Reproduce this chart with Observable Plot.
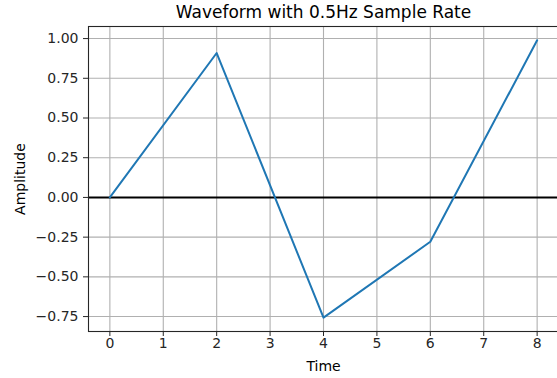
<!DOCTYPE html>
<html>
<head>
<meta charset="utf-8">
<script src="https://cdn.jsdelivr.net/npm/d3@7"></script>
<script src="https://cdn.jsdelivr.net/npm/@observablehq/plot@0.6"></script>
<style>
  html, body { margin: 0; padding: 0; background: #fff; }
  svg { display: block; }
</style>
</head>
<body>
<div id="chart"></div>
<script>
const times = [0, 2, 4, 6, 8];
const amplitudes = [0, 0.909, -0.757, -0.279, 0.989];
const xTicks = [0, 1, 2, 3, 4, 5, 6, 7, 8];
const yTicks = [-0.75, -0.5, -0.25, 0, 0.25, 0.5, 0.75, 1.0];
const titleText = "Waveform with 0.5Hz Sample Rate";
const xLabel = "Time";
const yLabel = "Amplitude";

const data = times.map((t, i) => ({t, a: amplitudes[i]}));

const chart = Plot.plot({
  width: 557,
  height: 378,
  marginLeft: 88,
  marginRight: -1,
  marginTop: 26,
  marginBottom: 47,
  style: {fontFamily: "DejaVu Sans", fontSize: "14px", color: "#262626", background: "#fff"},
  x: {domain: [-0.4, 8.4]},
  y: {domain: [-0.844, 1.076]},
  marks: [
    Plot.gridX(xTicks, {stroke: "#b0b0b0", strokeOpacity: 1, strokeWidth: 1.1}),
    Plot.gridY(yTicks, {stroke: "#b0b0b0", strokeOpacity: 1, strokeWidth: 1.1}),
    Plot.ruleY([0], {stroke: "#000", strokeWidth: 2}),
    Plot.line(data, {x: "t", y: "a", stroke: "#1f77b4", strokeWidth: 2}),
    Plot.frame({stroke: "#262626", strokeWidth: 1.1}),
    Plot.axisX(xTicks, {tickSize: 5, tickPadding: 2, label: null, fontSize: 14, tickFormat: d => String(d)}),
    Plot.axisY(yTicks, {tickSize: 5, tickPadding: 5, label: null, fontSize: 14, tickFormat: d => d3.format(".2f")(d).replace("-", "\u2212")}),
    Plot.text([titleText], {frameAnchor: "top", lineAnchor: "middle", dy: -14, fontSize: 17, fill: "#000"}),
    Plot.text([xLabel], {frameAnchor: "bottom", lineAnchor: "middle", dy: 35, fontSize: 14, fill: "#000"}),
    Plot.text([yLabel], {frameAnchor: "left", textAnchor: "middle", lineAnchor: "middle", dx: -68, rotate: -90, fontSize: 14, fill: "#000"})
  ]
});
document.getElementById("chart").appendChild(chart);
</script>
</body>
</html>
